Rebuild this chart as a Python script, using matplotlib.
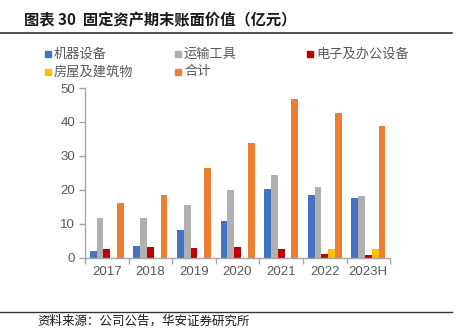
import numpy as np
import matplotlib.pyplot as plt
from matplotlib.patches import Rectangle
from matplotlib.lines import Line2D

plt.rcParams['font.family'] = ['Liberation Sans', 'Noto Sans CJK SC', 'DejaVu Sans']

years = ['2017', '2018', '2019', '2020', '2021', '2022', '2023H']
machines = [2.0, 3.5, 8.1, 10.8, 20.2, 18.5, 17.7]
vehicles = [11.8, 11.8, 15.5, 20.0, 24.3, 20.9, 18.2]
electronics = [2.5, 3.3, 2.9, 3.1, 2.5, 1.2, 0.8]
buildings = [0, 0, 0, 0, 0, 2.5, 2.5]
total = [16.0, 18.5, 26.5, 33.8, 46.7, 42.7, 38.8]

names = ['机器设备', '运输工具', '电子及办公设备', '房屋及建筑物', '合计']
colors = ['#4472C4', '#B0B0B0', '#C00000', '#FFC000', '#ED7D31']
series = [machines, vehicles, electronics, buildings, total]

cjk = ['Noto Sans CJK SC', 'DejaVu Sans']

fig = plt.figure(figsize=(4.59, 3.28), dpi=100)
ax = fig.add_axes([0.185, 0.2143, 0.665, 0.5174])

x = np.arange(len(years))
w = 0.156
for i, (vals, c) in enumerate(zip(series, colors)):
    ax.bar(x + (i - 2) * w, vals, width=w, color=c, linewidth=0)

ax.set_xlim(-0.5, len(years) - 0.5)
ax.set_ylim(0, 50)
ax.set_yticks(range(0, 51, 10))
ax.set_xticks(np.arange(-0.5, len(years), 1.0))
ax.set_xticklabels([])
ax.set_xticks(x, minor=True)
ax.set_xticklabels(years, minor=True)
ax.tick_params(axis='x', which='minor', length=0, pad=6, labelsize=9.5, labelcolor='#595959')
ax.tick_params(axis='x', which='major', length=4, color='#A6A6A6', width=1)
ax.tick_params(axis='y', length=4, color='#A6A6A6', width=1, labelsize=9.5, labelcolor='#595959', pad=3)
for s in ['top', 'right']:
    ax.spines[s].set_visible(False)
for s in ['left', 'bottom']:
    ax.spines[s].set_color('#A6A6A6')
    ax.spines[s].set_linewidth(1)

# header and footer
fig.text(24 / 459, 1 - 20 / 328, '图表 30  固定资产期末账面价值（亿元）', fontsize=11, fontweight='bold',
         family=cjk, va='center', ha='left', color='#1a1a1a')
fig.add_artist(Line2D([0, 452 / 459], [1 - 33 / 328] * 2, color='#333333', lw=1.2))
fig.add_artist(Line2D([0, 452 / 459], [1 - 312 / 328] * 2, color='#333333', lw=1.0))
fig.text(37 / 459, 1 - 321 / 328, '资料来源：公司公告，华安证券研究所', fontsize=9,
         family=cjk, va='center', ha='left', color='#1a1a1a')

# legend laid out in fixed columns
cols = [48, 178, 310]
rows = [54, 72]
for k, (name, c) in enumerate(zip(names, colors)):
    px = cols[k % 3]
    py = rows[k // 3]
    fig.add_artist(Rectangle(((px - 3) / 459, 1 - (py + 3) / 328), 6 / 459, 6 / 328,
                             color=c, transform=fig.transFigure))
    fig.text((px + 6) / 459, 1 - py / 328, name, fontsize=9.5, color='#595959',
             family=cjk, va='center', ha='left')

fig.savefig('out.png', dpi=100)
